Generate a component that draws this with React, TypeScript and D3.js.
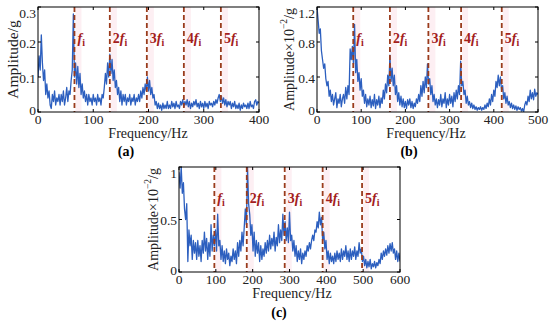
import * as d3 from "d3";

// spectrum (a): 0-400 Hz, one value every 2 Hz, g
const ampA = [
  0.10, 0.16, 0.12, 0.22, 0.14, 0.09, 0.12, 0.05, 0.08, 0.04, 0.06, 0.02, 0.01, 0.05, 0.03, 0.06, 0.02, 0.04, 0.03, 0.05,
  0.02, 0.05, 0.03, 0.06, 0.02, 0.04, 0.07, 0.03, 0.06, 0.05, 0.09, 0.12, 0.28, 0.10, 0.14, 0.08, 0.13, 0.07, 0.11, 0.05,
  0.08, 0.04, 0.06, 0.03, 0.05, 0.02, 0.05, 0.03, 0.04, 0.02, 0.05, 0.03, 0.04, 0.02, 0.05, 0.03, 0.04, 0.02, 0.05, 0.04,
  0.07, 0.11, 0.08, 0.14, 0.10, 0.165, 0.11, 0.15, 0.09, 0.12, 0.07, 0.09, 0.05, 0.07, 0.03, 0.06, 0.02, 0.05, 0.03, 0.05,
  0.02, 0.04, 0.03, 0.05, 0.02, 0.04, 0.03, 0.05, 0.02, 0.04, 0.03, 0.05, 0.03, 0.06, 0.04, 0.07, 0.05, 0.08, 0.06, 0.10,
  0.06, 0.09, 0.05, 0.07, 0.04, 0.05, 0.02, 0.03, 0.01, 0.025, 0.01, 0.02, 0.005, 0.025, 0.01, 0.02, 0.01, 0.03, 0.01, 0.02,
  0.01, 0.03, 0.015, 0.025, 0.01, 0.03, 0.015, 0.02, 0.01, 0.03, 0.02, 0.035, 0.015, 0.03, 0.02, 0.035, 0.015, 0.03, 0.01, 0.025,
  0.015, 0.03, 0.02, 0.035, 0.015, 0.025, 0.01, 0.03, 0.015, 0.025, 0.01, 0.03, 0.015, 0.025, 0.01, 0.03, 0.02, 0.025, 0.015, 0.03,
  0.02, 0.035, 0.025, 0.04, 0.05, 0.03, 0.045, 0.025, 0.04, 0.02, 0.035, 0.015, 0.03, 0.02, 0.03, 0.01, 0.025, 0.015, 0.03, 0.01,
  0.02, 0.01, 0.025, 0.005, 0.02, 0.01, 0.025, 0.015, 0.02, 0.01, 0.025, 0.01, 0.03, 0.015, 0.02, 0.01, 0.03, 0.035, 0.02, 0.03,
  0.025,
];

// spectrum (b): 0-500 Hz, one value every 2.5 Hz, x10^-2 g
const ampB = [
  1.2, 1.05, 0.9, 0.95, 0.7, 0.6, 0.5, 0.55, 0.38, 0.3, 0.35, 0.18, 0.25, 0.12, 0.2, 0.08, 0.15, 0.22, 0.05, 0.15,
  0.1, 0.2, 0.06, 0.15, 0.2, 0.1, 0.28, 0.15, 0.3, 0.2, 0.72, 0.6, 0.75, 0.55, 1.0, 0.45, 0.6, 0.35, 0.45, 0.25,
  0.38, 0.18, 0.25, 0.1, 0.2, 0.06, 0.15, 0.08, 0.18, 0.05, 0.14, 0.07, 0.2, 0.04, 0.14, 0.08, 0.18, 0.05, 0.16, 0.1,
  0.25, 0.15, 0.32, 0.22, 0.42, 0.3, 0.65, 0.35, 0.5, 0.3, 0.42, 0.2, 0.3, 0.12, 0.22, 0.08, 0.18, 0.06, 0.15, 0.05,
  0.12, 0.04, 0.14, 0.08, 0.15, 0.05, 0.12, 0.04, 0.1, 0.06, 0.15, 0.1, 0.2, 0.12, 0.3, 0.18, 0.35, 0.22, 0.4, 0.28,
  0.55, 0.32, 0.38, 0.2, 0.3, 0.12, 0.2, 0.08, 0.15, 0.05, 0.14, 0.08, 0.2, 0.06, 0.15, 0.1, 0.22, 0.05, 0.15, 0.08,
  0.2, 0.1, 0.18, 0.06, 0.22, 0.12, 0.25, 0.15, 0.3, 0.2, 0.58, 0.3, 0.35, 0.2, 0.25, 0.1, 0.18, 0.08, 0.12, 0.05,
  0.1, 0.04, 0.08, 0.03, 0.06, 0.02, 0.05, 0.03, 0.06, 0.02, 0.05, 0.03, 0.08, 0.04, 0.1, 0.06, 0.15, 0.08, 0.2, 0.12,
  0.25, 0.18, 0.35, 0.28, 0.42, 0.3, 0.4, 0.25, 0.3, 0.15, 0.22, 0.1, 0.18, 0.08, 0.12, 0.05, 0.1, 0.04, 0.08, 0.03,
  0.07, 0.02, 0.06, 0.03, 0.05, 0.01, 0.04, 0.0, 0.08, 0.12, 0.08, 0.18, 0.12, 0.25, 0.15, 0.22, 0.14, 0.26, 0.18, 0.22,
  0.2,
];

// spectrum (c): 0-600 Hz, one value every 3 Hz, x10^-2 g
const ampC = [
  0.95, 0.8, 1.0, 0.75, 0.85, 0.6, 0.5, 0.65, 0.1, 0.4, 0.25, 0.35, 0.12, 0.3, 0.18, 0.28, 0.12, 0.3, 0.15, 0.25,
  0.1, 0.3, 0.18, 0.38, 0.2, 0.32, 0.12, 0.28, 0.15, 0.45, 0.2, 0.35, 0.25, 0.4, 0.2, 0.55, 0.25, 0.3, 0.12, 0.25,
  0.1, 0.2, 0.08, 0.22, 0.12, 0.18, 0.06, 0.15, 0.1, 0.22, 0.12, 0.2, 0.08, 0.28, 0.15, 0.3, 0.2, 0.38, 0.25, 0.42,
  0.6, 0.45, 1.0, 0.65, 0.55, 0.35, 0.45, 0.2, 0.38, 0.15, 0.3, 0.18, 0.28, 0.1, 0.25, 0.12, 0.22, 0.15, 0.28, 0.18,
  0.3, 0.2, 0.35, 0.22, 0.32, 0.25, 0.38, 0.2, 0.33, 0.25, 0.45, 0.28, 0.4, 0.3, 0.55, 0.35, 0.48, 0.3, 0.42, 0.28,
  0.57, 0.3, 0.35, 0.2, 0.3, 0.15, 0.25, 0.1, 0.2, 0.12, 0.22, 0.08, 0.18, 0.12, 0.2, 0.15, 0.25, 0.2, 0.28, 0.22,
  0.3, 0.35, 0.3, 0.4, 0.38, 0.48, 0.42, 0.57, 0.45, 0.52, 0.3, 0.38, 0.22, 0.3, 0.12, 0.2, 0.08, 0.18, 0.1, 0.15,
  0.08, 0.18, 0.1, 0.2, 0.12, 0.18, 0.1, 0.22, 0.12, 0.2, 0.15, 0.25, 0.12, 0.2, 0.1, 0.22, 0.12, 0.2, 0.15, 0.24,
  0.12, 0.2, 0.15, 0.28, 0.18, 0.22, 0.1, 0.15, 0.06, 0.12, 0.04, 0.1, 0.05, 0.12, 0.03, 0.08, 0.05, 0.1, 0.04, 0.09,
  0.06, 0.12, 0.08, 0.18, 0.12, 0.2, 0.15, 0.22, 0.16, 0.25, 0.18, 0.27, 0.2, 0.28, 0.18, 0.22, 0.12, 0.2, 0.1, 0.18,
  0.1,
];

// harmonic marker frequencies (Hz)
const harmA = [66, 130, 197, 264, 331];
const harmB = [82, 165, 252, 326, 418];
const harmC = [96, 184, 287, 390, 497];

const xTicksA = [0, 100, 200, 300, 400];
const xTicksB = [0, 100, 200, 300, 400, 500];
const xTicksC = [0, 100, 200, 300, 400, 500, 600];
const yTicksA = [0, 0.1, 0.2, 0.3];
const yTicksB = [0, 0.4, 0.8, 1.2];
const yTicksC = [0, 0.5, 1];

const serif = "'Liberation Serif', 'Times New Roman', 'DejaVu Serif', serif";
const blue = "#2c5fbf";
const red = "#a3201c";
const dashColor = "#9a3b1c";

interface PanelProps {
  id: string;
  values: number[];
  step: number;
  xMax: number;
  yMax: number;
  xTicks: number[];
  yTicks: number[];
  harmonics: number[];
  left: number;
  right: number;
  top: number;
  bottom: number;
  scaled: boolean;
  yLabelX: number;
  xLabelX: number;
  tag: string;
  tagX: number;
  tagY: number;
}

function Panel(p: PanelProps) {
  const x = d3.scaleLinear().domain([0, p.xMax]).range([p.left, p.right]);
  const y = d3.scaleLinear().domain([0, p.yMax]).range([p.bottom, p.top]);
  const line = d3
    .line<number>()
    .x((_, i) => x(i * p.step))
    .y((d) => y(d));
  const tl = 3;

  return (
    <g fontFamily={serif}>
      <defs>
        <clipPath id={`clip-${p.id}`}>
          <rect x={p.left} y={p.top} width={p.right - p.left} height={p.bottom - p.top} />
        </clipPath>
      </defs>
      {p.harmonics.map((h) => (
        <rect key={`s${h}`} x={x(h) + 1} y={p.top} width={6} height={p.bottom - p.top} fill="#fdeff3" />
      ))}
      <path
        d={line(p.values) ?? ""}
        fill="none"
        stroke={blue}
        strokeWidth={1.3}
        strokeLinejoin="round"
        clipPath={`url(#clip-${p.id})`}
      />
      {p.harmonics.map((h) => (
        <line
          key={`d${h}`}
          x1={x(h)}
          x2={x(h)}
          y1={p.top}
          y2={p.bottom}
          stroke={dashColor}
          strokeWidth={1.8}
          strokeDasharray="5,3"
        />
      ))}
      {p.harmonics.map((h, i) => (
        <text key={`l${h}`} x={x(h) + 3} y={p.top + 36} fill={red} fontSize={14} fontWeight="bold">
          {i > 0 ? String(i + 1) : ""}
          <tspan fontStyle="italic">f</tspan>
          <tspan fontSize={10} dy={3}>i</tspan>
        </text>
      ))}
      <rect
        x={p.left}
        y={p.top}
        width={p.right - p.left}
        height={p.bottom - p.top}
        fill="none"
        stroke="#000"
        strokeWidth={1}
      />
      {p.xTicks.map((t) => (
        <g key={`x${t}`}>
          <line x1={x(t)} x2={x(t)} y1={p.bottom} y2={p.bottom - tl} stroke="#000" />
          <line x1={x(t)} x2={x(t)} y1={p.top} y2={p.top + tl} stroke="#000" />
          <text x={x(t)} y={p.bottom + 11.5} textAnchor="middle" fontSize={13.5} fill="#222">
            {t}
          </text>
        </g>
      ))}
      {p.yTicks.map((t) => (
        <g key={`y${t}`}>
          <line x1={p.left} x2={p.left + tl} y1={y(t)} y2={y(t)} stroke="#000" />
          <line x1={p.right} x2={p.right - tl} y1={y(t)} y2={y(t)} stroke="#000" />
          <text
            x={p.left - 2}
            y={Math.min(Math.max(y(t), p.top + 5), p.bottom - 3) + 1}
            textAnchor="end"
            dominantBaseline="central"
            fontSize={13.5}
            fill="#222"
          >
            {String(t)}
          </text>
        </g>
      ))}
      <text
        transform={`translate(${p.yLabelX},${(p.top + p.bottom) / 2}) rotate(-90)`}
        textAnchor="middle"
        dominantBaseline="central"
        fontSize={p.scaled ? 14 : 15.5}
        fill="#222"
      >
        {p.scaled ? (
          <>
            Amplitude×10
            <tspan fontSize={9.5} dy={-5}>−2</tspan>
            <tspan dy={5}>/g</tspan>
          </>
        ) : (
          "Amplitude/g"
        )}
      </text>
      <text x={p.xLabelX} y={p.bottom + 26} textAnchor="middle" fontSize={14} fill="#222">
        Frequency/Hz
      </text>
      <text x={p.tagX} y={p.tagY} textAnchor="middle" fontSize={14} fontWeight="bold" fill="#000">
        {p.tag}
      </text>
    </g>
  );
}

export default function App() {
  return (
    <svg
      width={550}
      height={328}
      style={{ position: "absolute", left: 0, top: 0, background: "#fff" }}
    >
      <Panel
        id="a"
        values={ampA}
        step={2}
        xMax={400}
        yMax={0.3}
        xTicks={xTicksA}
        yTicks={yTicksA}
        harmonics={harmA}
        left={38}
        right={259}
        top={7}
        bottom={112}
        scaled={false}
        yLabelX={12}
        xLabelX={148}
        tag="(a)"
        tagX={126}
        tagY={156}
      />
      <Panel
        id="b"
        values={ampB}
        step={2.5}
        xMax={500}
        yMax={1.2}
        xTicks={xTicksB}
        yTicks={yTicksB}
        harmonics={harmB}
        left={317}
        right={538}
        top={7}
        bottom={112}
        scaled={true}
        yLabelX={289}
        xLabelX={426}
        tag="(b)"
        tagX={409}
        tagY={156}
      />
      <Panel
        id="c"
        values={ampC}
        step={3}
        xMax={600}
        yMax={1}
        xTicks={xTicksC}
        yTicks={yTicksC}
        harmonics={harmC}
        left={179}
        right={400}
        top={167}
        bottom={272}
        scaled={true}
        yLabelX={153}
        xLabelX={292}
        tag="(c)"
        tagX={279}
        tagY={317}
      />
    </svg>
  );
}
